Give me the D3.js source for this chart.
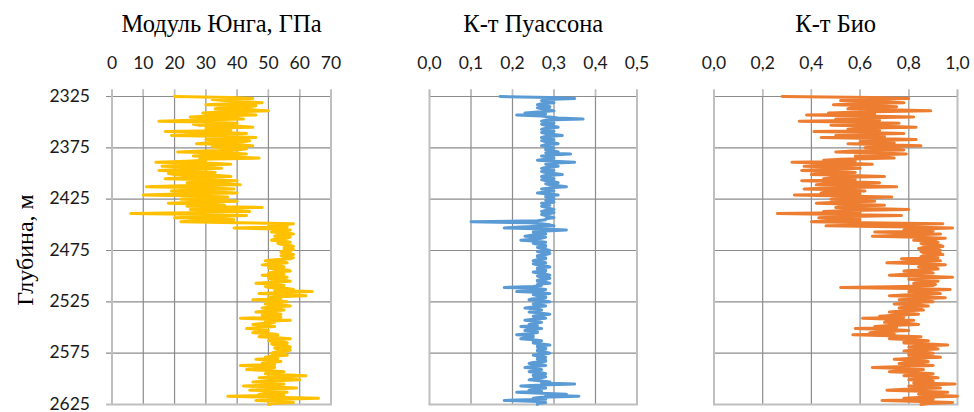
<!DOCTYPE html>
<html><head><meta charset="utf-8">
<script src="https://cdn.jsdelivr.net/npm/d3@7"></script>
<style>html,body{margin:0;padding:0;background:#fff;}svg{display:block;}</style>
</head><body><svg id="c" width="974" height="412"></svg>
<script>
const depth = [
2325,2326,2327,2328,2329,2330,2331,2332,2333,2334,2335,2336,2337,2338,2339,2340,2341,2342,2343,2344,2345,2346,2347,2348,2349,
2350,2351,2352,2353,2354,2355,2356,2357,2358,2359,2360,2361,2362,2363,2364,2365,2366,2367,2368,2369,2370,2371,2372,2373,2374,
2375,2376,2377,2378,2379,2380,2381,2382,2383,2384,2385,2386,2387,2388,2389,2390,2391,2392,2393,2394,2395,2396,2397,2398,2399,
2400,2401,2402,2403,2404,2405,2406,2407,2408,2409,2410,2411,2412,2413,2414,2415,2416,2417,2418,2419,2420,2421,2422,2423,2424,
2425,2426,2427,2428,2429,2430,2431,2432,2433,2434,2435,2436,2437,2438,2439,2440,2441,2442,2443,2444,2445,2446,2447,2448,2449,
2450,2451,2452,2453,2454,2455,2456,2457,2458,2459,2460,2461,2462,2463,2464,2465,2466,2467,2468,2469,2470,2471,2472,2473,2474,
2475,2476,2477,2478,2479,2480,2481,2482,2483,2484,2485,2486,2487,2488,2489,2490,2491,2492,2493,2494,2495,2496,2497,2498,2499,
2500,2501,2502,2503,2504,2505,2506,2507,2508,2509,2510,2511,2512,2513,2514,2515,2516,2517,2518,2519,2520,2521,2522,2523,2524,
2525,2526,2527,2528,2529,2530,2531,2532,2533,2534,2535,2536,2537,2538,2539,2540,2541,2542,2543,2544,2545,2546,2547,2548,2549,
2550,2551,2552,2553,2554,2555,2556,2557,2558,2559,2560,2561,2562,2563,2564,2565,2566,2567,2568,2569,2570,2571,2572,2573,2574,
2575,2576,2577,2578,2579,2580,2581,2582,2583,2584,2585,2586,2587,2588,2589,2590,2591,2592,2593,2594,2595,2596,2597,2598,2599,
2600,2601,2602,2603,2604,2605,2606,2607,2608,2609,2610,2611,2612,2613,2614,2615,2616,2617,2618,2619,2620,2621,2622,2623,2624,
2625];

const young = [
20,38,45,32,36,41,48,37,30,46, 44,35,33,45,50,34,29,40,46,31,
25,38,42,28,15,33,40,26,28,41, 45,30,34,38,17,36,43,29,19,37,
46,33,30,44,42,31,27,40,45,32, 35,43,40,29,21,37,43,31,26,39,
47,28,30,24,14,32,38,22,16,30, 35,21,15,28,33,18,20,34,38,24,
17,31,40,26,24,36,41,22,11,30, 39,25,19,33,40,21,10,28,37,26,
22,35,40,27,18,31,36,24,48,33, 25,38,44,29,6,30,43,33,20,35,
39,28,22,40,58,55,50,56,39,52, 57,53,51,56,58,53,52,57,56,52,
51,55,57,53,54,57,58,55,55,58, 57,54,54,57,58,54,55,58,57,52,
49,55,56,51,48,54,55,50,52,56, 57,52,50,55,48,53,56,50,51,55,
57,51,46,53,55,49,50,56,58,52, 64,54,47,56,62,53,50,54,45,52,
56,51,49,54,57,51,48,53,55,50, 46,52,54,48,50,54,41,50,57,49,
52,48,45,50,52,47,43,49,50,46, 45,51,53,48,47,53,57,51,50,55,
56,51,52,56,57,52,53,57,56,52, 51,55,56,51,49,53,46,51,54,49,
48,52,41,48,52,47,43,50,55,50, 49,55,62,53,47,55,60,51,45,52,
55,49,42,52,59,50,44,53,56,50, 47,55,37,52,66,54,46,53,58,51,
50];

const poisson = [
0.17,0.29,0.35,0.28,0.27,0.29,0.30,0.27,0.26,0.28, 0.29,0.26,0.27,0.29,0.30,0.26,0.23,0.28,0.21,0.27,
0.29,0.31,0.37,0.28,0.27,0.29,0.30,0.27,0.28,0.30, 0.31,0.28,0.27,0.29,0.30,0.27,0.28,0.30,0.32,0.28,
0.27,0.29,0.30,0.27,0.28,0.30,0.31,0.28,0.27,0.29, 0.30,0.28,0.28,0.30,0.31,0.28,0.34,0.29,0.27,0.29,
0.30,0.28,0.26,0.30,0.35,0.29,0.28,0.30,0.31,0.28, 0.27,0.29,0.30,0.27,0.28,0.30,0.32,0.28,0.27,0.29,
0.30,0.27,0.28,0.30,0.31,0.28,0.29,0.31,0.33,0.29, 0.27,0.29,0.30,0.28,0.26,0.29,0.31,0.28,0.28,0.30,
0.30,0.28,0.29,0.30,0.27,0.28,0.29,0.27,0.28,0.29, 0.30,0.28,0.27,0.30,0.29,0.27,0.28,0.29,0.30,0.28,
0.28,0.26,0.10,0.24,0.27,0.29,0.30,0.22,0.18,0.27, 0.33,0.28,0.25,0.27,0.28,0.25,0.23,0.28,0.27,0.25,
0.22,0.26,0.28,0.25,0.26,0.28,0.28,0.26,0.27,0.28, 0.29,0.26,0.27,0.29,0.28,0.26,0.26,0.28,0.28,0.26,
0.25,0.27,0.28,0.25,0.26,0.28,0.29,0.26,0.26,0.28, 0.28,0.25,0.26,0.28,0.29,0.26,0.27,0.29,0.28,0.26,
0.26,0.28,0.29,0.26,0.27,0.25,0.18,0.26,0.28,0.25, 0.21,0.27,0.29,0.25,0.26,0.28,0.28,0.25,0.24,0.27,
0.29,0.26,0.25,0.27,0.28,0.25,0.23,0.26,0.27,0.25, 0.24,0.27,0.29,0.26,0.25,0.27,0.28,0.25,0.23,0.26,
0.27,0.25,0.24,0.26,0.22,0.25,0.27,0.24,0.23,0.26, 0.26,0.24,0.21,0.25,0.25,0.23,0.22,0.25,0.27,0.25,
0.25,0.27,0.29,0.26,0.26,0.28,0.28,0.26,0.26,0.28, 0.29,0.26,0.25,0.27,0.28,0.26,0.26,0.28,0.28,0.25,
0.24,0.27,0.28,0.25,0.23,0.26,0.27,0.25,0.24,0.27, 0.28,0.25,0.25,0.28,0.27,0.25,0.24,0.27,0.29,0.27,
0.35,0.27,0.22,0.26,0.28,0.25,0.24,0.27,0.21,0.27, 0.33,0.28,0.36,0.27,0.25,0.28,0.18,0.26,0.28,0.26,
0.26];

const biot = [
0.28,0.65,0.80,0.60,0.52,0.70,0.78,0.58,0.49,0.66, 0.75,0.57,0.55,0.72,0.89,0.60,0.47,0.66,0.38,0.62,
0.82,0.58,0.50,0.68,0.35,0.60,0.76,0.55,0.48,0.70, 0.83,0.60,0.55,0.68,0.41,0.63,0.78,0.56,0.50,0.70,
0.44,0.66,0.83,0.62,0.60,0.74,0.55,0.70,0.85,0.64, 0.62,0.74,0.78,0.57,0.50,0.68,0.79,0.62,0.58,0.70,
0.74,0.52,0.45,0.58,0.32,0.55,0.65,0.45,0.37,0.54, 0.60,0.44,0.36,0.52,0.58,0.43,0.40,0.56,0.70,0.50,
0.45,0.58,0.36,0.55,0.68,0.48,0.42,0.60,0.75,0.50, 0.37,0.55,0.62,0.46,0.44,0.60,0.33,0.52,0.73,0.55,
0.48,0.60,0.66,0.50,0.42,0.58,0.70,0.52,0.50,0.64, 0.80,0.55,0.45,0.60,0.26,0.52,0.77,0.56,0.43,0.58,
0.60,0.48,0.40,0.62,0.94,0.70,0.46,0.80,0.98,0.85, 0.78,0.90,0.66,0.82,0.93,0.80,0.65,0.84,0.95,0.86,
0.82,0.91,0.92,0.85,0.86,0.93,0.94,0.86,0.84,0.92, 0.93,0.85,0.86,0.93,0.94,0.86,0.85,0.92,0.77,0.88,
0.93,0.82,0.71,0.85,0.95,0.86,0.84,0.91,0.92,0.84, 0.78,0.88,0.90,0.80,0.72,0.86,0.98,0.85,0.80,0.90,
0.92,0.83,0.82,0.91,0.90,0.78,0.52,0.80,0.97,0.86, 0.80,0.90,0.93,0.80,0.72,0.86,0.95,0.84,0.76,0.87,
0.90,0.80,0.74,0.84,0.88,0.78,0.76,0.85,0.86,0.77, 0.72,0.80,0.84,0.74,0.68,0.78,0.61,0.74,0.82,0.72,
0.70,0.80,0.84,0.72,0.66,0.75,0.58,0.72,0.80,0.70, 0.64,0.74,0.57,0.72,0.85,0.74,0.72,0.82,0.88,0.78,
0.78,0.88,0.96,0.84,0.80,0.90,0.92,0.82,0.78,0.87, 0.90,0.80,0.80,0.88,0.93,0.82,0.74,0.84,0.88,0.79,
0.76,0.85,0.90,0.78,0.65,0.78,0.86,0.77,0.72,0.84, 0.90,0.80,0.78,0.88,0.92,0.82,0.80,0.90,0.88,0.82,
0.99,0.86,0.80,0.90,0.93,0.80,0.71,0.85,0.96,0.86, 0.84,0.92,1.00,0.86,0.78,0.90,0.69,0.85,0.98,0.88,
0.85];

const titles = ["Модуль Юнга, ГПа", "К-т Пуассона", "К-т Био"];
const xMax = [70, 0.5, 1.0];
const xTicks = [[0,10,20,30,40,50,60,70],[0,0.1,0.2,0.3,0.4,0.5],[0,0.2,0.4,0.6,0.8,1.0]];
const depthTicks = [2325,2375,2425,2475,2525,2575,2625];
const yTitle = "Глубина, м";
const colors = ["#FFC000","#5B9BD5","#ED7D31"];
const seriesList = [young, poisson, biot];

const svg = d3.select("#c");
const y = d3.scaleLinear().domain([2325,2625]).range([96.5,404.5]);
const panels = [[112,331],[429.5,637],[714,957.5]];
const fmtComma = d => d3.format(".1f")(d).replace(".", ",");

panels.forEach((r, i) => {
  const x = d3.scaleLinear().domain([0, xMax[i]]).range(r);
  const g = svg.append("g");
  g.selectAll("line.h").data(depthTicks.slice(0, -1)).join("line")
    .attr("x1", i === 0 ? r[0] - 6 : r[0]).attr("x2", r[1])
    .attr("y1", d => y(d)).attr("y2", d => y(d))
    .attr("stroke", "#8c8c8c").attr("stroke-width", 1.2);
  g.selectAll("line.v").data(xTicks[i]).join("line")
    .attr("x1", d => x(d)).attr("x2", d => x(d))
    .attr("y1", y(2325) - 7).attr("y2", y(2625))
    .attr("stroke", (d, j) => (j === 0 || j === xTicks[i].length - 1) ? "#bfbfbf" : "#8c8c8c")
    .attr("stroke-width", (d, j) => (j === 0 || j === xTicks[i].length - 1) ? 2 : 1.2);
  g.selectAll("line.t").data(xTicks[i]).join("line")
    .attr("x1", d => x(d)).attr("x2", d => x(d))
    .attr("y1", y(2325) - 7).attr("y2", y(2325) - 0.5)
    .attr("stroke", "#bfbfbf").attr("stroke-width", 1.5);
  g.append("line").attr("x1", i === 0 ? r[0] - 6 : r[0] - 1).attr("x2", r[1] + 1)
    .attr("y1", y(2625)).attr("y2", y(2625))
    .attr("stroke", "#bfbfbf").attr("stroke-width", 2);
  const line = d3.line().x(d => x(d[1])).y(d => y(d[0]));
  g.append("path").datum(depth.map((dd, k) => [dd, seriesList[i][k]]))
    .attr("d", line).attr("fill", "none").attr("stroke", colors[i])
    .attr("stroke-width", 3).attr("stroke-linejoin", "round").attr("stroke-linecap", "round");
  g.selectAll("text.xt").data(xTicks[i]).join("text")
    .attr("x", d => x(d)).attr("y", 69)
    .attr("text-anchor", "middle")
    .attr("font-family", "Lato, 'Open Sans', sans-serif").attr("font-size", 17.5).attr("fill", "#1a1a1a")
    .text(d => i === 0 ? d : fmtComma(d));
  g.append("text").attr("x", (r[0] + r[1]) / 2).attr("y", 32)
    .attr("text-anchor", "middle")
    .attr("font-family", "'Liberation Serif', 'Times New Roman', serif").attr("font-size", 24.5).attr("fill", "#000")
    .text(titles[i]);
  if (i === 0) {
    g.selectAll("text.yt").data(depthTicks).join("text")
      .attr("x", 90).attr("y", d => y(d) + 5)
      .attr("text-anchor", "end")
      .attr("font-family", "Lato, 'Open Sans', sans-serif").attr("font-size", 17.5).attr("fill", "#1a1a1a")
      .text(d => d);
  }
});

svg.append("text").attr("transform", "translate(33,250) rotate(-90)")
  .attr("text-anchor", "middle")
  .attr("font-family", "'Liberation Serif', 'Times New Roman', serif").attr("font-size", 24).attr("fill", "#000")
  .text(yTitle);
</script></body></html>
